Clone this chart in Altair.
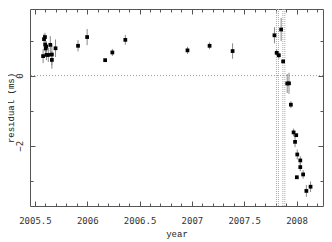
import altair as alt
import pandas as pd

# data
year = [2005.587, 2005.596, 2005.598, 2005.608, 2005.603, 2005.578, 2005.610, 2005.628,
        2005.647, 2005.662, 2005.662, 2005.697, 2005.912, 2005.999, 2006.171, 2006.240,
        2006.364, 2006.958, 2007.169, 2007.389,
        2007.789, 2007.853, 2007.810, 2007.831, 2007.872, 2007.911, 2007.928, 2007.946,
        2007.972, 2007.997, 2007.986, 2008.007, 2008.036, 2008.036, 2008.003, 2008.063,
        2008.094, 2008.134]
resid = [1.04, 1.10, 0.885, 0.83, 0.775, 0.556, 0.59, 0.59,
         0.877, 0.60, 0.447, 0.78, 0.85, 1.10, 0.44, 0.66,
         1.02, 0.72, 0.85, 0.70,
         1.15, 1.315, 0.65, 0.58, 0.405, -0.225, -0.22, -0.83,
         -1.62, -1.70, -1.89, -2.25, -2.42, -2.61, -2.90, -2.82,
         -3.29, -3.17]
err = [0.15, 0.12, 0.20, 0.15, 0.15, 0.20, 0.15, 0.20,
       0.25, 0.30, 0.25, 0.25, 0.16, 0.23, 0.05, 0.10,
       0.14, 0.10, 0.10, 0.22,
       0.23, 0.33, 0.10, 0.10, 0.05, 0.27, 0.30, 0.10,
       0.11, 0.05, 0.15, 0.14, 0.12, 0.12, 0.05, 0.12,
       0.17, 0.15]
vlines = [2007.808, 2007.827, 2007.869, 2007.888]
x_major = [2005.5, 2006.0, 2006.5, 2007.0, 2007.5, 2008.0]
x_minor = [round(2005.5 + 0.1 * i, 1) for i in range(28)]
y_major = [0, -2]
y_minor = [1, 0, -1, -2, -3]

XDOM = [2005.453, 2008.253]
YDOM = [-3.72, 1.9]

df = pd.DataFrame({"year": year, "resid": resid})
df["lo"] = df["resid"] - pd.Series(err)
df["hi"] = df["resid"] + pd.Series(err)

xs = alt.Scale(domain=XDOM, nice=False, zero=False)
ys = alt.Scale(domain=YDOM, nice=False, zero=False)

AX = "#555"

main_x = alt.X("year:Q", scale=xs, axis=alt.Axis(
    orient="bottom", values=x_major, format=".1~f", ticks=False, domain=False, grid=False,
    labelPadding=10, labelFont="DejaVu Sans Mono", labelFontSize=9, labelColor="#333",
    title="year", titleFont="Liberation Mono", titleFontSize=9, titleFontWeight="normal",
    titleColor="#222", titleY=23, titleBaseline="top"))
main_y = alt.Y("resid:Q", scale=ys, axis=alt.Axis(
    orient="left", values=y_major, ticks=False, domain=False, grid=False,
    labelAngle=270, labelAlign="center", labelBaseline="bottom", labelPadding=6,
    labelFont="DejaVu Sans Mono", labelFontSize=9, labelColor="#333",
    title="residual (ms)", titleFont="Liberation Mono", titleFontSize=9,
    titleFontWeight="normal", titleColor="#222", titleX=-15))

points = alt.Chart(df).mark_square(size=14, color="black", opacity=1).encode(x=main_x, y=main_y)

bars = alt.Chart(df).mark_rule(color="#888", strokeWidth=1).encode(
    x=alt.X("year:Q", scale=xs, axis=None),
    y=alt.Y("lo:Q", scale=ys, axis=None), y2="hi:Q")

zero_df = pd.DataFrame({"v": [0]})
zero = alt.Chart(zero_df).mark_rule(color="#999", strokeDash=[1, 2], strokeWidth=1).encode(
    y=alt.Y("v:Q", scale=ys, axis=None))

vdf = pd.DataFrame({"v": vlines})
vrules = alt.Chart(vdf).mark_rule(color="#aaa", strokeDash=[1, 1], strokeWidth=1).encode(
    x=alt.X("v:Q", scale=xs, axis=None))


def tick_layer(channel, orient, values, size):
    ax = alt.Axis(orient=orient, values=values, tickSize=size, offset=-size, labels=False,
                  domain=False, grid=False, title=None, tickColor=AX, ticks=True)
    if channel == "x":
        enc = dict(x=alt.X("year:Q", scale=xs, axis=ax), y=alt.Y("resid:Q", scale=ys, axis=None))
    else:
        enc = dict(x=alt.X("year:Q", scale=xs, axis=None), y=alt.Y("resid:Q", scale=ys, axis=ax))
    return alt.Chart(df).mark_point(opacity=0).encode(**enc)


ticks = [
    tick_layer("x", "bottom", x_minor, 3), tick_layer("x", "bottom", x_major, 5),
    tick_layer("x", "top", x_minor, 3), tick_layer("x", "top", x_major, 5),
    tick_layer("y", "left", y_minor, 3), tick_layer("y", "left", y_major, 5),
    tick_layer("y", "right", y_minor, 3), tick_layer("y", "right", y_major, 5),
]

chart = alt.layer(zero, vrules, bars, points, *ticks).resolve_axis(
    x="independent", y="independent"
).properties(
    width=293, height=197,
    autosize=alt.AutoSizeParams(type="none"),
    padding={"left": 22, "top": 1, "right": 1, "bottom": 33},
).configure_view(stroke=AX, strokeWidth=1)

chart.save("out.html", embed_options={"renderer": "svg", "actions": False})
